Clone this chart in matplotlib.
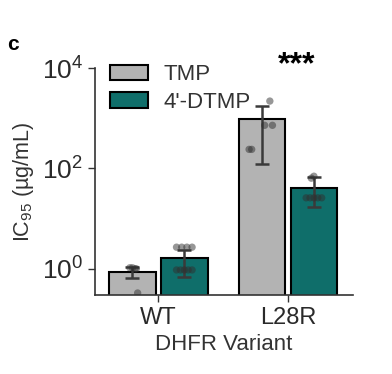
import numpy as np
import matplotlib
matplotlib.use('Agg')
from matplotlib import pyplot as plt

plt.rcParams['font.family'] = ['Liberation Sans', 'DejaVu Sans']
plt.rcParams['mathtext.fontset'] = 'custom'
plt.rcParams['mathtext.rm'] = 'Liberation Sans'
plt.rcParams['mathtext.it'] = 'Liberation Sans'

variants = ['WT', 'L28R']
drugs = ['TMP', "4'-DTMP"]
colors = ['#b3b3b3', '#0f6e6a']

# bar heights
means = {'TMP': [0.87, 960], "4'-DTMP": [1.65, 41]}
err_lo = {'TMP': [0.66, 123], "4'-DTMP": [0.69, 17]}
err_hi = {'TMP': [1.1, 1750], "4'-DTMP": [2.4, 68]}
# replicate points
pts = {
    ('WT', 'TMP'): [1.05, 1.05, 1.0, 1.0, 0.33],
    ('WT', "4'-DTMP"): [2.7, 2.7, 2.7, 2.7, 0.95, 0.95, 0.95, 0.95, 0.95],
    ('L28R', 'TMP'): [2200, 724, 724, 240, 240],
    ('L28R', "4'-DTMP"): [64, 70, 26, 26, 26, 26, 26],
}
jit = {
    ('WT', 'TMP'): [-0.02, 0.0, 0.02, 0.03, 0.04],
    ('WT', "4'-DTMP"): [-0.06, -0.02, 0.02, 0.06, -0.06, -0.03, 0.0, 0.03, 0.06],
    ('L28R', 'TMP'): [0.06, 0.02, 0.08, -0.1, -0.08],
    ('L28R', "4'-DTMP"): [-0.02, 0.0, -0.06, -0.03, 0.0, 0.03, 0.06],
}

fig = plt.figure(figsize=(3.92, 3.74), dpi=100)
ax = fig.add_axes([0.242, 0.211, 0.658, 0.607])

x = np.arange(len(variants))
w = 0.36
for j, d in enumerate(drugs):
    xs = x + (j - 0.5) * 0.4
    ax.bar(xs, means[d], width=w, color=colors[j], edgecolor='black',
           linewidth=1.5, label=d, zorder=1)
    m = np.array(means[d])
    yerr = [m - np.array(err_lo[d]), np.array(err_hi[d]) - m]
    ax.errorbar(xs, m, yerr=yerr, fmt='none', ecolor='#3a3a3a',
                elinewidth=1.8, capsize=5, capthick=1.8, zorder=3)
    for i, v in enumerate(variants):
        yy = pts[(v, d)]
        xx = xs[i] + np.array(jit[(v, d)])
        ax.scatter(xx, yy, s=28, color='#303030', alpha=0.5,
                   edgecolor='none', zorder=4)

ax.set_yscale('log')
ax.set_ylim(0.3, 1e4)
ax.set_xlim(-0.49, 1.5)
ax.set_yticks([1, 1e2, 1e4])
ax.set_yticklabels([r'$10^0$', r'$10^2$', r'$10^4$'])
ax.yaxis.set_minor_locator(matplotlib.ticker.NullLocator())
ax.set_xticks(x)
ax.set_xticklabels(variants)
ax.tick_params(axis='y', labelsize=19, length=5, width=1, color='#333333',
               labelcolor='#2a2a2a')
ax.tick_params(axis='x', labelsize=17, length=5, width=1, color='#333333',
               labelcolor='#2a2a2a')
for s in ['top', 'right']:
    ax.spines[s].set_visible(False)
for s in ['left', 'bottom']:
    ax.spines[s].set_color('#333333')
    ax.spines[s].set_linewidth(1.2)

ax.set_ylabel(r'IC$_{95}$ (µg/mL)', fontsize=15.5, color='#333333', labelpad=4)
ax.set_xlabel('DHFR Variant', fontsize=16, color='#333333', labelpad=4)

leg = ax.legend(loc='upper left', bbox_to_anchor=(0.058, 1.017), frameon=False,
                fontsize=16, handlelength=1.7, handleheight=0.68,
                handletextpad=0.7, labelspacing=0.3, borderpad=0,
                borderaxespad=0)
for t in leg.get_texts():
    t.set_color('#333333')

ax.text(1.065, 1.15e4, '***', ha='center', va='center', fontsize=23,
        fontweight='bold', clip_on=False)
fig.text(0.018, 0.866, 'c', fontsize=15, fontweight='bold')

fig.savefig('out.png', dpi=100)
